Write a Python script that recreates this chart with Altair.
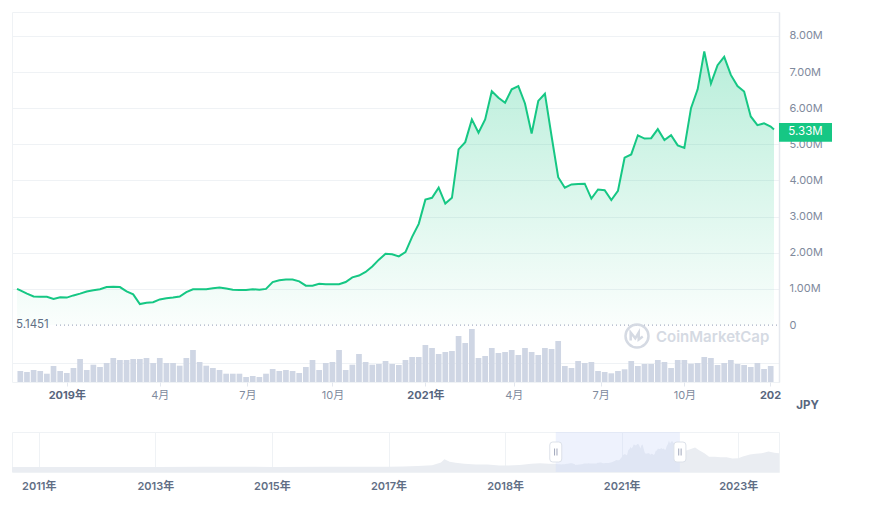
import altair as alt
import pandas as pd

# ---------------- data ----------------
# weekly price (millions of JPY), Nov 2019 -> Jan 2022
price_m = [0.96, 0.87, 0.79, 0.78, 0.78, 0.72, 0.77, 0.76, 0.82, 0.87,
           0.93, 0.96, 0.99, 1.05, 1.06, 1.05, 0.93, 0.85, 0.58, 0.62,
           0.63, 0.71, 0.74, 0.76, 0.79, 0.91, 0.99, 0.99, 0.99, 1.02,
           1.04, 1.01, 0.98, 0.97, 0.97, 0.99, 0.98, 1.00, 1.19, 1.24,
           1.26, 1.26, 1.21, 1.09, 1.09, 1.14, 1.13, 1.13, 1.13, 1.19,
           1.32, 1.37, 1.47, 1.62, 1.81, 1.97, 1.96, 1.90, 2.02, 2.44,
           2.80, 3.47, 3.52, 3.80, 3.36, 3.52, 4.86, 5.06, 5.69, 5.32,
           5.69, 6.47, 6.29, 6.15, 6.52, 6.61, 6.13, 5.30, 6.20, 6.40,
           5.23, 4.09, 3.80, 3.89, 3.90, 3.91, 3.50, 3.75, 3.73, 3.46,
           3.71, 4.63, 4.72, 5.25, 5.16, 5.17, 5.42, 5.12, 5.25, 4.97,
           4.90, 6.00, 6.52, 7.57, 6.68, 7.19, 7.42, 6.92, 6.61, 6.46,
           5.77, 5.53, 5.58, 5.49]
# price where the line meets the left and right edges of the plot
price_edge_start = 1.00
price_edge_end = 5.41

# weekly volume (relative units)
volume = [11, 10, 12, 11, 8.3, 16, 11, 9, 14, 23,
          12, 17.3, 15, 19, 24, 22, 22, 23, 23, 24,
          19, 24, 19, 19, 16.3, 24, 32, 20, 16.3, 14,
          12, 8.3, 8.3, 8.3, 5, 6, 5, 8.3, 13, 11,
          12, 11, 9, 15, 22, 12, 19, 20, 32, 12,
          17.3, 28, 20, 17.3, 18, 21, 18, 17, 22, 25,
          25, 37, 34, 28, 30, 31, 46, 39, 53, 24,
          26, 34, 29, 30, 32, 27, 34, 30, 27, 34,
          33, 41, 16, 14, 21, 19, 20, 11, 10, 8.7,
          11, 12.7, 21, 16, 18, 18, 22, 20, 14, 22,
          22, 18.3, 19, 25, 24, 17, 19, 22, 18, 17,
          15, 19, 13, 16]

x_tick_pos = [7, 21, 34.2, 47, 61, 74.3, 87.4, 100, 112.9]
x_tick_labels = ["2019年", "4月", "7月", "10月", "2021年", "4月", "7月", "10月", "202"]
x_tick_bold = [True, False, False, False, True, False, False, False, True]

y_ticks = [0, 1, 2, 3, 4, 5, 6, 7, 8]
last_price_label = 5.33
baseline_text = "5.1451"
currency = "JPY"
watermark = "CoinMarketCap"

# navigator (full history, millions of JPY)
nav_years_pre = [2010.54, 2011.0, 2012.0, 2013.0, 2013.9, 2014.5, 2015.0, 2016.0, 2016.5,
                 2017.0, 2017.25, 2017.5, 2017.75, 2017.9, 2017.96, 2018.05, 2018.15,
                 2018.3, 2018.5, 2018.7, 2018.9, 2019.0, 2019.25, 2019.45, 2019.6, 2019.75]
nav_values_pre = [0.0, 0.0, 0.001, 0.002, 0.1, 0.06, 0.03, 0.04, 0.07,
                  0.1, 0.13, 0.3, 0.5, 1.3, 2.2, 1.5, 1.2,
                  0.95, 0.7, 0.72, 0.45, 0.4, 0.56, 0.95, 1.1, 0.9]
nav_years_post = [2022.08, 2022.15, 2022.26, 2022.33, 2022.42, 2022.5, 2022.6, 2022.7,
                  2022.8, 2022.9, 2023.0, 2023.08, 2023.2, 2023.3, 2023.4, 2023.52,
                  2023.62, 2023.7]
nav_values_post = [4.6, 4.9, 5.6, 4.8, 3.9, 2.9, 2.9, 2.8,
                   2.8, 2.4, 2.5, 3.0, 3.6, 3.8, 3.9, 4.4,
                   4.1, 3.9]
nav_window = [2019.87, 2022.0]
nav_domain = [2010.54, 2023.7]
nav_ticks = [2011, 2013, 2015, 2017, 2019, 2021, 2023]
nav_tick_labels = ["2011年", "2013年", "2015年", "2017年", "2018年", "2021年", "2023年"]

# ---------------- styling ----------------
FONT = "Inter, 'Noto Sans CJK JP', sans-serif"
GREEN = "#16c784"
GRID = "#eff2f5"
PRICE_DOMAIN = [-1.575, 8.66]
VOL_DOMAIN = [0, 370]
NAV_Y_DOMAIN = [-1.43, 10.0]


def label_expr(values, labels):
    expr = "''"
    for v, l in reversed(list(zip(values, labels))):
        expr = f"datum.value == {v} ? '{l}' : {expr}"
    return expr


bold_test = " || ".join(f"datum.value == {v}" for v, b in zip(x_tick_pos, x_tick_bold) if b)

n = len(price_m)
df = pd.DataFrame({"i": list(range(n)), "vol": volume})
line_df = pd.DataFrame({
    "i": [-0.5] + list(range(n)) + [n - 0.5],
    "price": [price_edge_start] + price_m + [price_edge_end],
})

x_axis = alt.Axis(
    values=x_tick_pos,
    labelExpr=label_expr(x_tick_pos, x_tick_labels),
    grid=False, domain=False,
    tickColor="#e3e7ee", tickSize=4,
    labelPadding=3, labelFontSize=11, labelFont=FONT,
    labelFontWeight={"condition": {"test": bold_test, "value": "bold"}, "value": "normal"},
    labelColor={"condition": {"test": bold_test, "value": "#58667e"}, "value": "#808a9d"},
    labelFlush=False,
    title=currency, titleX=795, titleY=23, titleAlign="center", titleBaseline="middle",
    titleAngle=0, titleFontSize=11.5, titleFontWeight="bold", titleColor="#58667e",
    titleFont=FONT,
)
xenc = alt.X("i:Q", scale=alt.Scale(domain=[-0.5, n - 0.5], nice=False, zero=False), axis=x_axis)

y_axis = alt.Axis(
    orient="right", values=y_ticks,
    labelExpr="datum.value == 0 ? '0' : format(datum.value, '.2f') + 'M'",
    grid=True, gridColor=GRID,
    gridOpacity={"condition": {"test": "datum.value == 0", "value": 0}, "value": 1},
    ticks=False, domain=True, domainColor="#e6e9ef", domainWidth=1.5,
    labelPadding=10, labelFontSize=11, labelColor="#808a9d", labelFont=FONT, title=None,
)
yprice = alt.Y("price:Q", scale=alt.Scale(domain=PRICE_DOMAIN, nice=False, zero=False), axis=y_axis)

gradient = alt.LinearGradient(
    gradient="linear",
    stops=[alt.GradientStop(color="rgba(22,199,132,0.30)", offset=0),
           alt.GradientStop(color="rgba(22,199,132,0.02)", offset=1)],
    x1=1, x2=1, y1=0, y2=1,
)

pbase = alt.Chart(line_df)
area = pbase.mark_area(color=gradient).encode(x=xenc, y=yprice, y2=alt.datum(0))
line = pbase.mark_line(color=GREEN, strokeWidth=2).encode(x="i:Q", y=alt.Y("price:Q", title=None))

one = pd.DataFrame({"k": [0]})
zero_rule = alt.Chart(one).mark_rule(color="#a6b0c3", strokeDash=[1, 3], strokeWidth=1.2).encode(
    y=alt.datum(0), x=alt.value(44), x2=alt.value(767))
base_txt = alt.Chart(one).mark_text(text=baseline_text, align="left", baseline="middle",
                                    fontSize=11.5, color="#616e85", font=FONT).encode(
    x=alt.value(4), y=alt.datum(0))

LOGO = ("M1,0 A1,1 0 1,1 -1,0 A1,1 0 1,1 1,0 "
        "M-0.55,0.4 L-0.55,-0.3 L-0.15,0.2 L0.15,-0.3 L0.15,0.3 L0.5,0.05")
logo = alt.Chart(one).mark_point(shape=LOGO, size=529, filled=False, color="#d5dae3",
                                 strokeWidth=2.5, opacity=1).encode(
    x=alt.value(625), y=alt.value(324))
wm = alt.Chart(one).mark_text(text=watermark, align="left", baseline="middle", fontSize=15,
                              fontWeight=600, color="#d5dae3", font=FONT).encode(
    x=alt.value(644), y=alt.value(325))

lbl_df = pd.DataFrame({"v": [last_price_label], "t": [f"{last_price_label:.2f}M"]})
BOX = "M-1,-0.358 L1,-0.358 L1,0.358 L-1,0.358 Z"
box = alt.Chart(lbl_df).mark_point(shape=BOX, size=2809, filled=True, color=GREEN,
                                   opacity=1, strokeWidth=0).encode(
    x=alt.value(793.5), y=alt.Y("v:Q", title=None))
box_txt = alt.Chart(lbl_df).mark_text(color="white", fontSize=11.5, align="center",
                                      baseline="middle", font=FONT).encode(
    x=alt.value(793.5), y=alt.Y("v:Q", title=None), text="t:N")

bars = alt.Chart(df).mark_bar(color="#cfd6e4", width=5.7).encode(
    x="i:Q",
    y=alt.Y("vol:Q", scale=alt.Scale(domain=VOL_DOMAIN, nice=False, zero=False),
            axis=alt.Axis(orient="left", values=[19], labels=False, ticks=False, domain=False,
                          grid=True, gridColor=GRID, title=None)),
)

price_layer = alt.layer(area, line, zero_rule, base_txt, logo, wm, box, box_txt)
main = alt.layer(bars, price_layer).resolve_scale(y="independent").properties(width=767, height=370)

# ---------------- navigator ----------------
win_years = [nav_window[0] + k * (nav_window[1] - nav_window[0]) / (n - 1) for k in range(n)]
nav_df = pd.DataFrame({
    "yr": nav_years_pre + win_years + nav_years_post,
    "val": nav_values_pre + price_m + nav_values_post,
})

nav_axis = alt.Axis(values=nav_ticks, labelExpr=label_expr(nav_ticks, nav_tick_labels),
                    grid=True, gridColor=GRID, ticks=False, domain=False, labelPadding=8,
                    labelFontSize=11, labelFontWeight=600, labelColor="#616e85",
                    labelFont=FONT, title=None, labelFlush=False)

nav_area = alt.Chart(nav_df).mark_area(color="#eaedf2").encode(
    x=alt.X("yr:Q", scale=alt.Scale(domain=nav_domain, nice=False, zero=False), axis=nav_axis),
    y=alt.Y("val:Q", scale=alt.Scale(domain=NAV_Y_DOMAIN, nice=False, zero=False), axis=None),
    y2=alt.datum(NAV_Y_DOMAIN[0]),
)
win_df = pd.DataFrame({"s": [nav_window[0]], "e": [nav_window[1]]})
band = alt.Chart(win_df).mark_rect(color="#cfd9fa", opacity=0.35).encode(x="s:Q", x2="e:Q")

HANDLE = ("M-0.6,-0.7 Q-0.6,-1 -0.3,-1 L0.3,-1 Q0.6,-1 0.6,-0.7 L0.6,0.7 "
          "Q0.6,1 0.3,1 L-0.3,1 Q-0.6,1 -0.6,0.7 Z")
GRIP = "M-0.12,-0.35 L-0.12,0.35 M0.12,-0.35 L0.12,0.35"
h_df = pd.DataFrame({"h": nav_window})
handles = alt.Chart(h_df).mark_point(shape=HANDLE, size=400, filled=True, fill="white",
                                     stroke="#dde2ea", strokeWidth=1, opacity=1).encode(
    x="h:Q", y=alt.value(20))
grips = alt.Chart(h_df).mark_point(shape=GRIP, size=400, filled=False, color="#a1a7bb",
                                   strokeWidth=1, opacity=1).encode(
    x="h:Q", y=alt.value(20))

nav = alt.layer(nav_area, band, handles, grips).properties(width=767, height=40)

chart = (
    alt.vconcat(main, nav, spacing=20)
    .properties(padding={"left": 11, "top": 11, "right": 0, "bottom": 0}, background="white")
    .configure(font=FONT)
    .configure_view(stroke=GRID)
)

chart.save("out.html", embed_options={"renderer": "svg", "actions": False})
